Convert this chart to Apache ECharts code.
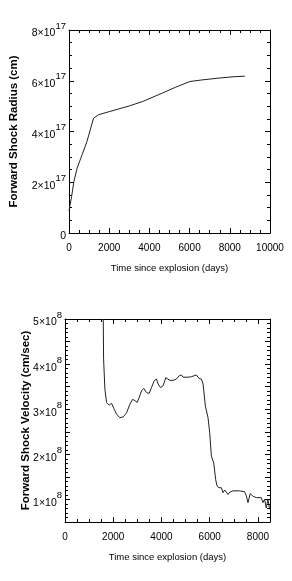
<!DOCTYPE html>
<html><head><meta charset="utf-8">
<script src="https://cdn.jsdelivr.net/npm/echarts@6/dist/echarts.min.js"></script>
<style>html,body{margin:0;padding:0;background:#fff}#c{width:292px;height:581px}</style>
</head><body><div id="c"></div>
<script>
// Top panel: forward shock radius (cm) vs time (days)
const radiusTime = [0, 33, 130, 244, 406, 650, 894, 1220, 1463, 2033, 3008, 3659, 4634, 5285, 6016, 6585, 7398, 8211, 8748];
const radiusVals = [0.88e17, 0.92e17, 1.44e17, 2.03e17, 2.56e17, 3.08e17, 3.61e17, 4.52e17, 4.66e17, 4.79e17, 5.01e17, 5.18e17, 5.51e17, 5.74e17, 5.97e17, 6.03e17, 6.10e17, 6.16e17, 6.18e17];
// Bottom panel: forward shock velocity (cm/s) vs time (days)
const velTime = [1586, 1600, 1655, 1724, 1834, 1931, 2000, 2041, 2138, 2276, 2414, 2552, 2690, 2800, 2897, 2993, 3103, 3172, 3269, 3379, 3490, 3586, 3697, 3793, 3862, 3959, 4069, 4179, 4234, 4345, 4483, 4621, 4731, 4828, 4897, 5103, 5241, 5448, 5559, 5655, 5724, 5821, 5931, 6000, 6069, 6166, 6248, 6303, 6386, 6483, 6552, 6621, 6690, 6759, 6828, 6966, 7241, 7448, 7520, 7586, 7683, 7793, 7931, 8138, 8207, 8276, 8345, 8414, 8483];
const velVals = [5.0e8, 4.11e8, 3.44e8, 3.15e8, 3.09e8, 3.13e8, 3.15e8, 3.0e8, 2.89e8, 2.81e8, 2.83e8, 2.92e8, 3.11e8, 3.22e8, 3.19e8, 3.15e8, 3.30e8, 3.41e8, 3.46e8, 3.37e8, 3.35e8, 3.48e8, 3.63e8, 3.67e8, 3.56e8, 3.48e8, 3.52e8, 3.70e8, 3.74e8, 3.64e8, 3.64e8, 3.67e8, 3.74e8, 3.76e8, 3.71e8, 3.71e8, 3.72e8, 3.76e8, 3.68e8, 3.67e8, 3.56e8, 3.07e8, 2.81e8, 2.48e8, 1.96e8, 1.81e8, 1.44e8, 1.30e8, 1.26e8, 1.26e8, 1.15e8, 1.21e8, 1.19e8, 1.11e8, 1.16e8, 1.19e8, 1.19e8, 1.17e8, 1.08e8, 0.93e8, 1.13e8, 1.07e8, 1.04e8, 1.04e8, 0.93e8, 1.0e8, 0.81e8, 1.0e8, 0.78e8];
const xTicks = [0, 2000, 4000, 6000, 8000, 10000];
const radiusLabels = ['0', '2', '4', '6', '8'];
const velLabels = ['1', '2', '3', '4', '5'];

const FONT = '"Liberation Sans", Arial, sans-serif';
const rich = {
  b: {fontFamily: FONT, fontSize: 10.5, color: '#000', verticalAlign: 'bottom', lineHeight: 18},
  s: {fontFamily: FONT, fontSize: 9.5, color: '#000', verticalAlign: 'top', lineHeight: 18}
};
function sciLabel(exp, scale) {
  return function (v) {
    const m = Math.round(v / scale * 100) / 100;
    if (m === 0) return '{b|0}';
    if (Math.abs(m - Math.round(m)) > 1e-6) return '';
    return '{b|' + m + '×10}{s|' + exp + '}';
  };
}
const lineCol = '#000';
function xAxisPair(gi, max) {
  const base = {
    gridIndex: gi, type: 'value', min: 0, max: max, interval: 2000,
    axisLine: {show: true, onZero: false, lineStyle: {color: lineCol, width: 1}},
    axisTick: {show: true, inside: true, length: 5, lineStyle: {color: lineCol}},
    minorTick: {show: true, splitNumber: 4, length: 3, lineStyle: {color: lineCol}},
    splitLine: {show: false}, minorSplitLine: {show: false}
  };
  return [
    Object.assign({}, base, {position: 'bottom',
      axisLabel: {fontFamily: FONT, fontSize: 10, color: '#000', margin: 10,
        showMaxLabel: max % 2000 === 0, formatter: v => String(v)},
      name: 'Time since explosion (days)', nameLocation: 'middle', nameGap: 30, nameMoveOverlap: false,
      nameTextStyle: {fontFamily: FONT, fontSize: 9.5, color: '#000'}}),
    Object.assign({}, base, {position: 'top', axisLabel: {show: false}})
  ];
}
function yAxisPair(gi, min, max, interval, minorSplit, fmt, name, gap, nsize) {
  const base = {
    gridIndex: gi, type: 'value', min: min, max: max, interval: interval,
    axisLine: {show: true, onZero: false, lineStyle: {color: lineCol, width: 1}},
    axisTick: {show: true, inside: true, length: 5, lineStyle: {color: lineCol}},
    minorTick: {show: true, splitNumber: minorSplit, length: 3, lineStyle: {color: lineCol}},
    splitLine: {show: false}, minorSplitLine: {show: false}
  };
  return [
    Object.assign({}, base, {position: 'left',
      axisLabel: {formatter: fmt, rich: rich, margin: 3},
      name: name, nameLocation: 'middle', nameGap: gap, nameRotate: 90, nameMoveOverlap: false,
      nameTextStyle: {fontFamily: FONT, fontSize: nsize, fontWeight: 'bold', color: '#000'}}),
    Object.assign({}, base, {position: 'right', axisLabel: {show: false}})
  ];
}
const xa = xAxisPair(0, 10000).concat(xAxisPair(1, 8500));
const ya = yAxisPair(0, 0, 8e17, 2e17, 4, sciLabel(17, 1e17), 'Forward Shock Radius (cm)', 49, 11.5)
  .concat(yAxisPair(1, 0.5e8, 5e8, 0.5e8, 5, sciLabel(8, 1e8), 'Forward Shock Velocity (cm/sec)', 33, 11.5));

const chart = echarts.init(document.getElementById('c'), null, {renderer: 'canvas'});
chart.setOption({
  animation: false,
  backgroundColor: '#fff',
  grid: [
    {left: 65, top: 30, width: 205, height: 203},
    {left: 65, top: 319, width: 205, height: 203}
  ],
  xAxis: xa,
  yAxis: ya,
  series: [
    {type: 'line', xAxisIndex: 0, yAxisIndex: 0, showSymbol: false, clip: true,
      lineStyle: {color: '#222', width: 1}, data: radiusTime.map((t, i) => [t, radiusVals[i]])},
    {type: 'line', xAxisIndex: 2, yAxisIndex: 2, showSymbol: false, clip: true,
      lineStyle: {color: '#222', width: 1}, data: velTime.map((t, i) => [t, velVals[i]])}
  ]
});
</script></body></html>
